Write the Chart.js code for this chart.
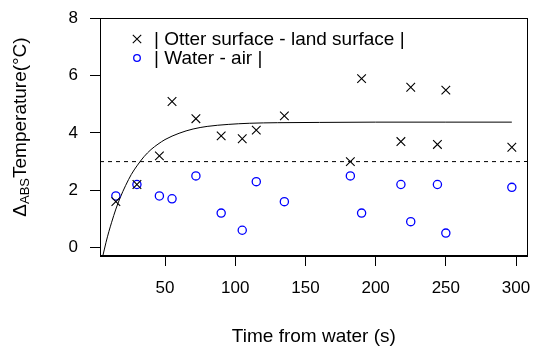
<!DOCTYPE html>
<html>
<head>
<meta charset="utf-8">
<script src="https://cdn.jsdelivr.net/npm/chart.js@4.4.0/dist/chart.umd.min.js"></script>
<style>
html,body{margin:0;padding:0;background:#fff}
#wrap{width:533px;height:346px}
</style>
</head>
<body>
<div id="wrap"><canvas id="c" width="533" height="346"></canvas></div>
<script>
// observations (time from water, seconds)
const timeSec   = [15, 30, 46, 55, 72, 90, 105, 115, 135, 182, 190, 218, 225, 244, 250, 297];
const otterLand = [1.6, 2.2, 3.2, 5.1, 4.5, 3.9, 3.8, 4.1, 4.6, 3.0, 5.9, 3.7, 5.6, 3.6, 5.5, 3.5];
const waterAir  = [1.8, 2.2, 1.8, 1.7, 2.5, 1.2, 0.6, 2.3, 1.6, 2.5, 1.2, 2.2, 0.9, 2.2, 0.5, 2.1];
// fitted curve
const fitX = [5.7, 8, 10, 12, 15, 18, 22, 26, 30, 35, 40, 45, 50, 60, 70, 80, 95, 110, 130, 160, 200, 250, 297];
const fitY = [-0.3, 0.18, 0.55, 0.88, 1.34, 1.73, 2.17, 2.55, 2.85, 3.17, 3.42, 3.61, 3.77, 3.99, 4.14, 4.23, 4.30, 4.34, 4.36, 4.37, 4.38, 4.38, 4.38];
const threshold = 3;
const xTicks = [50, 100, 150, 200, 250, 300];
const yTicks = [0, 2, 4, 6, 8];
const xRange = [3.7, 308.3];
const yRange = [-0.3, 8.02];
const seriesLabels = ['| Otter surface - land surface |', '| Water - air |'];

const FONT = 'Arial, "Liberation Sans", sans-serif';

const pts = ys => timeSec.map((x,i)=>({x, y:ys[i]}));

const boxPlugin = {
  id:'box',
  afterDatasetsDraw(chart){
    const a = chart.chartArea, c = chart.ctx;
    c.save();
    c.strokeStyle = '#000'; c.lineWidth = 1;
    c.strokeRect(Math.round(a.left)+0.5, Math.round(a.top)+0.5, Math.round(a.right-a.left)-1, Math.round(a.bottom-a.top)-1);
    c.restore();
  }
};

const legendPlugin = {
  id:'rlegend',
  afterDraw(chart){
    const c = chart.ctx;
    c.save();
    c.font = '19px ' + FONT;
    c.textBaseline = 'middle';
    c.fillStyle = '#000';
    [0,1].forEach(i=>{
      const ds = chart.data.datasets[i];
      const cx = 137, cy = 39 + i*19;
      c.strokeStyle = ds.borderColor; c.lineWidth = ds.borderWidth;
      c.beginPath();
      if(ds.pointStyle==='crossRot'){
        const d = 4.2;
        c.moveTo(cx-d,cy-d); c.lineTo(cx+d,cy+d);
        c.moveTo(cx-d,cy+d); c.lineTo(cx+d,cy-d);
      } else {
        c.arc(cx, cy, 3.3, 0, Math.PI*2);
      }
      c.stroke();
      c.fillText(ds.label, 154, cy+1);
    });
    c.restore();
  }
};

const yTitlePlugin = {
  id:'ytitle',
  afterDraw(chart){
    const c = chart.ctx;
    c.save();
    c.fillStyle = '#000';
    c.translate(21, 127);
    c.rotate(-Math.PI/2);
    c.textBaseline = 'middle';
    const big = '19px ' + FONT, small = '13px ' + FONT;
    const parts = [['\u0394', big, 0], ['ABS', small, 4], ['Temperature(\u00B0C)', big, 0]];
    let total = 0;
    parts.forEach(p=>{ c.font = p[1]; total += c.measureText(p[0]).width; });
    let x = -total/2;
    parts.forEach(p=>{ c.font = p[1]; c.fillText(p[0], x, p[2]); x += c.measureText(p[0]).width; });
    c.restore();
  }
};

new Chart(document.getElementById('c').getContext('2d'), {
  type:'scatter',
  data:{ datasets:[
    { label:seriesLabels[0], data:pts(otterLand), pointStyle:'crossRot', radius:6.1, borderColor:'#000', borderWidth:1.1 },
    { label:seriesLabels[1], data:pts(waterAir), pointStyle:'circle', radius:4.1, borderColor:'#0000ff', backgroundColor:'rgba(0,0,0,0)', borderWidth:1.3 },
    { label:'fit', data:fitX.map((x,i)=>({x, y:fitY[i]})), showLine:true, pointRadius:0, borderColor:'#000', borderWidth:1, cubicInterpolationMode:'monotone' },
    { label:'threshold', data:[{x:xRange[0], y:threshold}, {x:xRange[1], y:threshold}], showLine:true, pointRadius:0, borderColor:'#000', borderWidth:1, borderDash:[4,4] }
  ]},
  options:{
    responsive:false, animation:false, events:[],
    layout:{ autoPadding:false, padding:{ top:18, right:5.3, left:0, bottom:0 } },
    plugins:{ legend:{display:false}, tooltip:{enabled:false} },
    scales:{
      x:{ type:'linear', min:xRange[0], max:xRange[1],
        afterBuildTicks:s=>{ s.ticks = xTicks.map(v=>({value:v})); },
        afterFit:s=>{ s.height = 90; s.paddingLeft = 0; s.paddingRight = 0; },
        grid:{ drawOnChartArea:false, tickLength:10, color:'#000' },
        border:{ color:'#000' },
        ticks:{ color:'#000', font:{family:FONT, size:17}, padding:12, maxRotation:0 },
        title:{ display:true, text:'Time from water (s)', color:'#000', font:{family:FONT, size:19}, padding:{top:0, bottom:-2} } },
      y:{ type:'linear', min:yRange[0], max:yRange[1],
        afterBuildTicks:s=>{ s.ticks = yTicks.map(v=>({value:v})); },
        afterFit:s=>{ s.width = 100; s.paddingTop = 0; s.paddingBottom = 0; },
        grid:{ drawOnChartArea:false, tickLength:10, color:'#000' },
        border:{ color:'#000' },
        ticks:{ color:'#000', font:{family:FONT, size:17}, padding:12 } }
    }
  },
  plugins:[boxPlugin, legendPlugin, yTitlePlugin]
});
</script>
</body>
</html>
